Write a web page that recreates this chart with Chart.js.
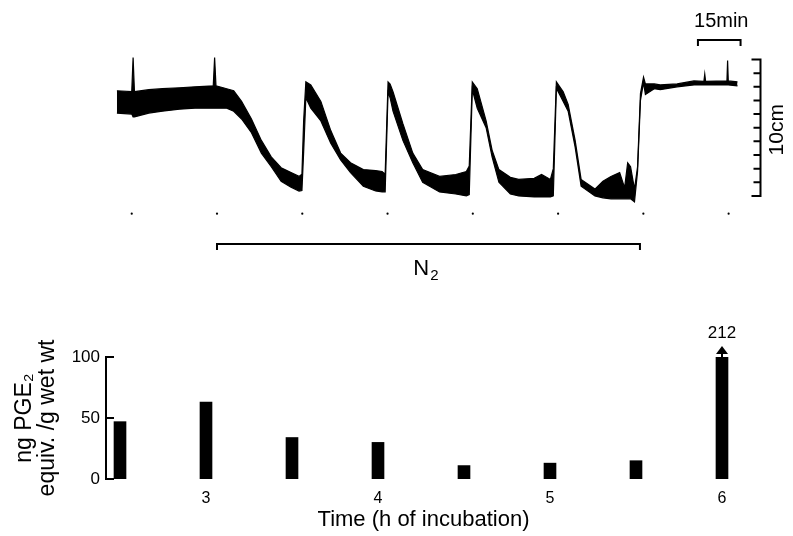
<!DOCTYPE html>
<html>
<head>
<meta charset="utf-8">
<script src="https://cdn.jsdelivr.net/npm/chart.js@4.4.1/dist/chart.umd.min.js"></script>
<style>
  html, body { margin: 0; padding: 0; background: #fff; }
  #wrap { position: relative; width: 793px; height: 536px; overflow: hidden; }
  #trace { position: absolute; left: 0; top: 0; }
  #bars { position: absolute; left: 0; top: 310px; }
</style>
</head>
<body>
<div id="wrap">
  <canvas id="trace" width="793" height="310"></canvas>
  <canvas id="bars" width="793" height="226"></canvas>
</div>
<script>
// ---- data: tension trace (h of incubation, cm of pen deflection) ----
const traceHours = [
  2.413, 2.50, 2.508, 2.516, 2.60, 2.68, 2.78, 2.871, 2.978, 2.986, 2.994,
  3.057, 3.098, 3.144, 3.202, 3.26, 3.318, 3.376, 3.434, 3.481, 3.498,
  3.508, 3.521, 3.55, 3.609, 3.667, 3.725, 3.783, 3.858, 3.93, 3.968, 3.986,
  4.003, 4.015, 4.032, 4.09, 4.148, 4.206, 4.305, 4.40, 4.462, 4.479,
  4.497, 4.526, 4.578, 4.613, 4.653, 4.72, 4.769, 4.86, 4.903, 4.955, 4.972,
  4.99, 5.03, 5.059, 5.10, 5.135, 5.216, 5.263, 5.31, 5.361, 5.39, 5.408, 5.425, 5.448,
  5.466, 5.483, 5.501, 5.512, 5.564, 5.599, 5.698, 5.797, 5.855, 5.86, 5.865,
  5.99, 5.994, 5.998, 6.052
]
// upper edge of the recorded band
const traceUpper = [
  7.71, 7.64, 10.14, 7.64, 7.79, 7.86, 7.93, 8.0, 8.07, 10.14, 8.07,
  7.86, 7.71, 6.93, 5.64, 4.07, 2.86, 2.07, 1.71, 1.43, 1.6,
  5.5, 8.36, 8.14, 6.93, 4.79, 3.14, 2.43, 1.93, 1.86, 1.79, 1.6,
  8.36, 8.2, 7.64, 5.29, 3.14, 1.93, 1.43, 1.57, 1.79, 2.2,
  8.36, 7.86, 5.5, 3.36, 1.93, 1.36, 1.21, 1.29, 1.57, 1.21, 2.0,
  8.36, 7.64, 6.71, 4.07, 1.21, 0.5, 1.07, 1.43, 1.71, 0.6, 2.43, 2.14, 0.5,
  2.14, 7.5, 8.71, 8.21, 8.21, 8.14, 8.21, 8.43, 8.4, 8.93, 8.4,
  8.43, 9.93, 8.43, 8.36
]
// lower edge of the recorded band
const traceLower = [
  6.07, 6.0, 5.79, 5.79, 6.07, 6.21, 6.36, 6.43, 6.43, 6.43, 6.43,
  6.43, 6.21, 5.64, 4.64, 3.14, 2.14, 1.07, 0.64, 0.36, 0.4,
  3.2, 7.2, 6.43, 5.5, 3.86, 2.64, 1.71, 0.71, 0.36, 0.29, 0.3,
  7.6, 7.2, 6.21, 4.07, 2.43, 1.0, 0.29, 0.14, 0.0, 0.1,
  7.8, 6.43, 5.0, 2.86, 1.0, 0.14, 0.0, -0.07, -0.07, -0.07, 0.0,
  7.9, 6.93, 6.21, 3.57, 0.71, 0.0, -0.14, -0.21, -0.21, -0.21, -0.21, -0.21, -0.43,
  1.8, 7.0, 8.3, 7.43, 7.86, 7.79, 8.0, 8.14, 8.14, 8.14, 8.14,
  8.14, 8.14, 8.14, 8.07
]
const markerHours = [2.5, 3, 3.5, 4, 4.5, 5, 5.5, 6]
const n2Period = [3.0, 5.48]
const timeBarHours = [5.82, 6.07]   // 15 min
const cmTicks = [0, 1, 2, 3, 4, 5, 6, 7, 8, 9, 10]

// ---- data: PGE2 output ----
const sampleHours = [2.5, 3, 3.5, 4, 4.5, 5, 5.5, 6]
const pgeValues = [47, 63, 34, 30, 11, 13, 15, 212]
const hourTicks = [3, 4, 5, 6]
const pgeTicks = [0, 50, 100]

const FONT = "'Liberation Sans', Arial, Helvetica, sans-serif"
const INK = '#000'

// Annotations on the trace: N2 bracket, 15 min bar, 10 cm scale
const traceDecor = {
  id: 'traceDecor',
  afterDraw(chart) {
    const { ctx } = chart
    const { x, y } = chart.scales
    ctx.save()
    ctx.strokeStyle = INK
    ctx.fillStyle = INK
    ctx.lineWidth = 2

    // N2 bracket
    const nx0 = x.getPixelForValue(n2Period[0])
    const nx1 = x.getPixelForValue(n2Period[1])
    const ny = y.getPixelForValue(0) + 48
    ctx.beginPath()
    ctx.moveTo(nx0, ny + 6)
    ctx.lineTo(nx0, ny)
    ctx.lineTo(nx1, ny)
    ctx.lineTo(nx1, ny + 6)
    ctx.stroke()
    const nMid = (nx0 + nx1) / 2 - 3
    ctx.font = `22px ${FONT}`
    ctx.textBaseline = 'alphabetic'
    const nW = ctx.measureText('N').width
    ctx.font = `15px ${FONT}`
    const sW = ctx.measureText('2').width
    const startX = nMid - (nW + sW) / 2
    ctx.font = `22px ${FONT}`
    ctx.textAlign = 'left'
    ctx.fillText('N', startX, ny + 31)
    ctx.font = `15px ${FONT}`
    ctx.fillText('2', startX + nW + 1, ny + 36)

    // 15 min bar
    const tx0 = x.getPixelForValue(timeBarHours[0])
    const tx1 = x.getPixelForValue(timeBarHours[1])
    const ty = 40
    ctx.beginPath()
    ctx.moveTo(tx0, ty + 6)
    ctx.lineTo(tx0, ty)
    ctx.lineTo(tx1, ty)
    ctx.lineTo(tx1, ty + 6)
    ctx.stroke()
    ctx.font = `20px ${FONT}`
    ctx.textAlign = 'center'
    ctx.textBaseline = 'middle'
    ctx.fillText('15min', (tx0 + tx1) / 2 + 2, 21)

    // 10 cm scale
    const sx = x.getPixelForValue(traceHours[traceHours.length - 1]) + 23
    const sy0 = y.getPixelForValue(cmTicks[0])
    const sy1 = y.getPixelForValue(cmTicks[cmTicks.length - 1])
    ctx.beginPath()
    ctx.moveTo(sx, sy0)
    ctx.lineTo(sx, sy1)
    cmTicks.forEach((v, i) => {
      const py = y.getPixelForValue(v)
      const len = (i === 0 || i === cmTicks.length - 1) ? 9 : 7
      ctx.moveTo(sx + 1, py)
      ctx.lineTo(sx - len, py)
    })
    ctx.stroke()
    ctx.save()
    ctx.translate(sx + 17, (sy0 + sy1) / 2 + 2)
    ctx.rotate(-Math.PI / 2)
    ctx.font = `21px ${FONT}`
    ctx.textAlign = 'center'
    ctx.textBaseline = 'middle'
    ctx.fillText('10cm', 0, 0)
    ctx.restore()
    ctx.restore()
  }
}

new Chart(document.getElementById('trace'), {
  type: 'line',
  data: {
    datasets: [
      {
        data: traceHours.map((h, i) => ({ x: h, y: traceLower[i] })),
        borderColor: INK,
        borderWidth: 1.2,
        pointRadius: 0,
        fill: false,
        tension: 0
      },
      {
        data: traceHours.map((h, i) => ({ x: h, y: traceUpper[i] })),
        borderColor: INK,
        backgroundColor: INK,
        borderWidth: 1.2,
        pointRadius: 0,
        fill: '-1',
        tension: 0
      },
      {
        data: markerHours.map(h => ({ x: h, y: -1.3 })),
        showLine: false,
        pointRadius: 1.1,
        pointBorderWidth: 0,
        pointBackgroundColor: INK
      }
    ]
  },
  options: {
    responsive: false,
    animation: false,
    events: [],
    layout: { padding: 0 },
    plugins: { legend: { display: false }, tooltip: { enabled: false } },
    scales: {
      x: { type: 'linear', display: false, min: 1.751, max: 6.354 },
      y: { type: 'linear', display: false, min: -8.07, max: 14.07 }
    }
  },
  plugins: [traceDecor]
})

// y spine with inward ticks, and the off-scale arrow
const barDecor = {
  id: 'barDecor',
  afterDraw(chart) {
    const { ctx, chartArea } = chart
    const { x, y } = chart.scales
    ctx.save()
    ctx.strokeStyle = INK
    ctx.fillStyle = INK
    ctx.lineWidth = 2
    const left = chartArea.left
    ctx.beginPath()
    ctx.moveTo(left, y.getPixelForValue(pgeTicks[0]) + 1)
    ctx.lineTo(left, y.getPixelForValue(pgeTicks[pgeTicks.length - 1]) - 1)
    pgeTicks.forEach(v => {
      const py = y.getPixelForValue(v)
      ctx.moveTo(left - 1, py)
      ctx.lineTo(left + 8, py)
    })
    ctx.stroke()

    sampleHours.forEach((h, i) => {
      if (pgeValues[i] <= y.max) return
      const px = x.getPixelForValue(h)
      const top = chartArea.top
      ctx.fillRect(px - 1, top - 4, 2, 5)
      ctx.beginPath()
      ctx.moveTo(px - 6, top - 3)
      ctx.lineTo(px + 6, top - 3)
      ctx.lineTo(px, top - 11)
      ctx.closePath()
      ctx.fill()
      ctx.font = `17px ${FONT}`
      ctx.textAlign = 'center'
      ctx.textBaseline = 'middle'
      ctx.fillText(String(pgeValues[i]), px, top - 24)
    })
    ctx.restore()
  }
}

new Chart(document.getElementById('bars'), {
  type: 'bar',
  data: {
    datasets: [{
      data: sampleHours.map((h, i) => ({ x: h, y: pgeValues[i] })),
      backgroundColor: INK,
      borderWidth: 0,
      barThickness: 12,
      clip: 0
    }]
  },
  options: {
    responsive: false,
    animation: false,
    events: [],
    layout: { padding: { top: 47, right: 52, left: 0, bottom: 0 } },
    plugins: { legend: { display: false }, tooltip: { enabled: false } },
    scales: {
      x: {
        type: 'linear',
        offset: false,
        min: 2.4186,
        max: 6.1105,
        grid: { display: false, drawTicks: false, offset: false },
        border: { display: false },
        afterBuildTicks: s => { s.ticks = hourTicks.map(v => ({ value: v })) },
        afterFit: s => { s.height = 57 },
        ticks: { color: INK, font: { family: FONT, size: 16 }, padding: 10, maxRotation: 0 },
        title: {
          display: true,
          text: 'Time (h of incubation)',
          color: INK,
          font: { family: FONT, size: 22, lineHeight: 1.2 },
          padding: { top: 0, bottom: 3 }
        }
      },
      y: {
        type: 'linear',
        min: 0,
        max: 100,
        grid: { display: false, drawTicks: false },
        border: { display: false },
        afterBuildTicks: s => { s.ticks = pgeTicks.map(v => ({ value: v })) },
        afterFit: s => { s.width = 106 },
        ticks: { color: INK, font: { family: FONT, size: 17 }, padding: 6 },
        title: {
          display: true,
          text: ['ng PGE\u2082', 'equiv. /g wet wt'],
          color: INK,
          font: { family: FONT, size: 23, lineHeight: 1.0 },
          padding: { top: 13, bottom: 0 }
        }
      }
    }
  },
  plugins: [barDecor]
})
</script>
</body>
</html>
